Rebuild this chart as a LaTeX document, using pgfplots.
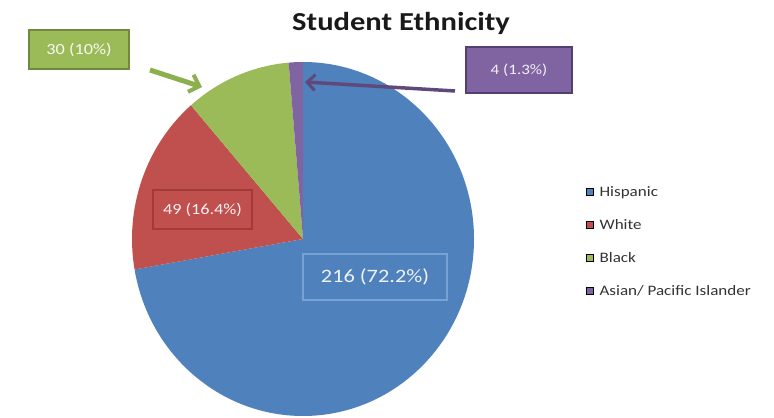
\documentclass[border=0pt]{standalone}
\usepackage{pgfplots}
\pgfplotsset{compat=1.18}
\usepackage{pgfplotstable}
\usepackage{fontspec}
\setmainfont{Carlito}
\usetikzlibrary{arrows.meta}
\definecolor{hisp}{HTML}{4F81BD}
\definecolor{whit}{HTML}{C0504D}
\definecolor{blak}{HTML}{9BBB59}
\definecolor{asia}{HTML}{8064A2}
\definecolor{hispB}{HTML}{78A2D6}
\definecolor{whitB}{HTML}{A33A37}
\definecolor{blakB}{HTML}{71893F}
\definecolor{asiaB}{HTML}{543E72}
\definecolor{garrow}{HTML}{8DB04E}
\definecolor{parrow}{HTML}{5F497A}
\definecolor{legtext}{HTML}{333333}
\newcommand\sx[1]{\scalebox{1.18}[1]{#1}}
\pgfplotsset{sq/.style={legend image code/.code={\fill[##1] (0bp,-3.5bp) rectangle (7bp,3.5bp); \path (11bp,0bp);}}}
\pgfplotstableread{
group value
Hispanic 216
White 49
Black 30
Asian 4
}\ethn
\begin{document}
\begin{tikzpicture}
\pgfplotstablegetelem{0}{value}\of\ethn\let\vH\pgfplotsretval
\pgfplotstablegetelem{1}{value}\of\ethn\let\vW\pgfplotsretval
\pgfplotstablegetelem{2}{value}\of\ethn\let\vB\pgfplotsretval
\pgfplotstablegetelem{3}{value}\of\ethn\let\vA\pgfplotsretval
\pgfmathsetmacro\tot{\vH+\vW+\vB+\vA}
\pgfmathsetmacro\aH{90-360*(\vH/\tot)}
\pgfmathsetmacro\aW{\aH-360*(\vW/\tot)}
\pgfmathsetmacro\aB{\aW-360*(\vB/\tot)}
\pgfmathsetmacro\aA{\aB-360*(\vA/\tot)}
\def\cx{303}\def\cy{179}\def\rx{171}\def\ry{177}
\pgfmathsetmacro\xT{\cx}\pgfmathsetmacro\yT{\cy+\ry}
\pgfmathsetmacro\xH{\cx+\rx*cos(\aH)}\pgfmathsetmacro\yH{\cy+\ry*sin(\aH)}
\pgfmathsetmacro\xW{\cx+\rx*cos(\aW)}\pgfmathsetmacro\yW{\cy+\ry*sin(\aW)}
\pgfmathsetmacro\xB{\cx+\rx*cos(\aB)}\pgfmathsetmacro\yB{\cy+\ry*sin(\aB)}
\begin{axis}[
  scale only axis, width=774bp, height=418bp,
  xmin=0, xmax=774, ymin=0, ymax=418,
  hide axis, clip=false,
  legend cell align=left,
  legend style={at={(axis cs:586,234)}, anchor=north west, draw=none, fill=none,
    font=\fontsize{14.5}{17}\selectfont, text=legtext, inner sep=0pt,
    row sep=17.5bp, nodes={inner sep=2bp}},
]
\path (axis cs:0,0) rectangle (axis cs:774,418);
\addlegendimage{sq, fill=hisp}\addlegendentry{\sx{Hispanic}}
\addlegendimage{sq, fill=whit}\addlegendentry{\sx{White}}
\addlegendimage{sq, fill=blak}\addlegendentry{\sx{Black}}
\addlegendimage{sq, fill=asia}\addlegendentry{\sx{Asian/ Pacific Islander}}
% pie wedges
\fill[hisp] (axis cs:\cx,\cy) -- (axis cs:\xT,\yT) arc[start angle=90, end angle=\aH, x radius=\rx, y radius=\ry] -- cycle;
\fill[whit] (axis cs:\cx,\cy) -- (axis cs:\xH,\yH) arc[start angle=\aH, end angle=\aW, x radius=\rx, y radius=\ry] -- cycle;
\fill[blak] (axis cs:\cx,\cy) -- (axis cs:\xW,\yW) arc[start angle=\aW, end angle=\aB, x radius=\rx, y radius=\ry] -- cycle;
\fill[asia] (axis cs:\cx,\cy) -- (axis cs:\xB,\yB) arc[start angle=\aB, end angle=\aA, x radius=\rx, y radius=\ry] -- cycle;
% title
\node[anchor=base, font=\fontsize{26}{30}\selectfont\bfseries, text=black!90] at (axis cs:401,387) {\sx{Student Ethnicity}};
% arrows
\draw[garrow, line width=5bp, -{Straight Barb[length=9bp,width=18bp,line width=4bp]}] (axis cs:150,348) -- (axis cs:202,331);
\draw[parrow, line width=3.5bp, -{Straight Barb[length=8bp,width=16bp,line width=3bp]}] (axis cs:455,327) -- (axis cs:305,336);
% data labels
\node[fill=blak, draw=blakB, line width=1.5bp, minimum width=100bp, minimum height=39bp, inner sep=0pt,
  text=white!92!blak, font=\fontsize{15.5}{18}\selectfont] at (axis cs:79,368.5) {\sx{30 (10\%)}};
\node[fill=asia, draw=asiaB, line width=2bp, minimum width=106bp, minimum height=46bp, inner sep=0pt,
  text=white!90!asia, font=\fontsize{14.5}{18}\selectfont] at (axis cs:519,348) {\sx{4 (1.3\%)}};
\node[fill=whit, draw=whitB, line width=2bp, minimum width=99bp, minimum height=39bp, inner sep=0pt,
  text=white!92!whit, font=\fontsize{15.5}{18}\selectfont] at (axis cs:202.5,208.5) {\sx{49 (16.4\%)}};
\node[fill=hisp, draw=hispB, line width=1.2bp, minimum width=144bp, minimum height=46bp, inner sep=0pt,
  text=white!90!hisp, font=\fontsize{19}{22}\selectfont] at (axis cs:375,141) {\sx{216 (72.2\%)}};
\end{axis}
\end{tikzpicture}
\end{document}
